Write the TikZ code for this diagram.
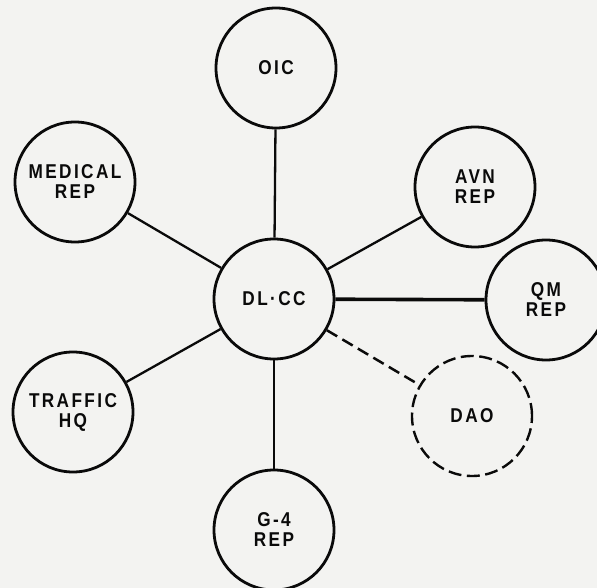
\documentclass[tikz,border=0pt]{standalone}
\usepackage{fontspec}
\setmainfont{Liberation Sans}[LetterSpace=12,FakeStretch=0.86]
\definecolor{paper}{RGB}{243,243,241}
\definecolor{ink}{RGB}{10,10,10}
\begin{document}
\begin{tikzpicture}[x=1pt,y=-1pt,
  unit/.style={circle,draw=ink,line width=2.8pt,minimum size=120pt,inner sep=0pt,
    align=center,text=ink,font=\bfseries\fontsize{20}{20}\selectfont},
  dashunit/.style={unit,line width=2.4pt,dash pattern=on 13pt off 5.5pt},
  conn/.style={draw=ink,line width=2.3pt},
  thickconn/.style={draw=ink,line width=3.6pt},
  dashconn/.style={draw=ink,line width=2.5pt,dash pattern=on 12pt off 6pt}]
\fill[paper] (0,0) rectangle (597,588);
\useasboundingbox (0,0) rectangle (597,588);
\node[unit] (dlcc) at (274,299) {DL·CC};
\node[unit] (oic)  at (276,68)  {OIC};
\node[unit] (med)  at (75,182)  {MEDICAL\\REP};
\node[unit] (avn)  at (475,187) {AVN\\REP};
\node[unit] (qm)   at (546,300) {QM\\REP};
\node[unit] (traf) at (73,412)  {TRAFFIC\\HQ};
\node[dashunit] (dao) at (472,416) {DAO};
\node[unit] (g4)   at (274,530) {G-4\\REP};
\draw[conn] (dlcc) -- (oic);
\draw[conn] (dlcc) -- (med);
\draw[conn] (dlcc) -- (avn);
\draw[thickconn] (dlcc) -- (qm);
\draw[conn] (dlcc) -- (traf);
\draw[dashconn] (dlcc) -- (dao);
\draw[conn] (dlcc) -- (g4);
\end{tikzpicture}
\end{document}
